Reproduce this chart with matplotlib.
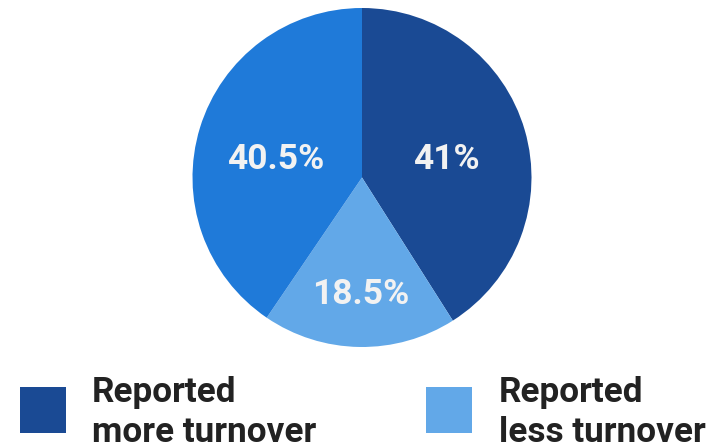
import matplotlib
matplotlib.use("Agg")
import matplotlib.pyplot as plt
import numpy as np
from matplotlib.patches import Rectangle

# Survey shares, drawn clockwise from 12 o'clock
categories = ["Reported more turnover", "Reported less turnover", "No change"]
shares = [41.0, 18.5, 40.5]
slice_labels = ["41%", "18.5%", "40.5%"]
colors = ["#1a4a94", "#62a8e8", "#1f7ad9"]

legend_labels = [["Reported", "more turnover"], ["Reported", "less turnover"]]
legend_colors = [colors[0], colors[1]]

W, H = 715, 447
fig = plt.figure(figsize=(W / 100, H / 100), dpi=100)

# pie axes in pixel-derived figure fractions
cx, cy, r = 362, 177.5, 169.5
ax = fig.add_axes([(cx - r) / W, 1 - (cy + r) / H, 2 * r / W, 2 * r / H])
wedges, _ = ax.pie(shares, colors=colors, startangle=90, counterclock=False,
                   wedgeprops=dict(linewidth=0))
ax.set_xlim(-1, 1)
ax.set_ylim(-1, 1)
ax.set_aspect("equal")
ax.axis("off")

label_radius = [0.51, 0.68, 0.52]
label_shift = [-3.0, 0.0, 4.0]
for w, lab, rad, sh in zip(wedges, slice_labels, label_radius, label_shift):
    ang = np.deg2rad((w.theta1 + w.theta2) / 2 + sh)
    ax.text(rad * np.cos(ang), rad * np.sin(ang) - 0.01, lab, ha="center", va="center",
            color="#f2f2f2", fontsize=25.5, fontweight="bold", family="Roboto")

# legend
sq_x = [20, 426]
txt_x = [92, 499]
for sx, tx, col, lines in zip(sq_x, txt_x, legend_colors, legend_labels):
    fig.patches.append(Rectangle((sx / W, 1 - 433 / H), 46 / W, 46 / H,
                                 transform=fig.transFigure, facecolor=col,
                                 edgecolor="none"))
    for i, line in enumerate(lines):
        fig.text(tx / W, 1 - (402 + 40 * i) / H, line, ha="left", va="baseline",
                 fontsize=25.3, fontweight="bold", family="Roboto", color="#222222")

fig.savefig("out.png", dpi=100)
